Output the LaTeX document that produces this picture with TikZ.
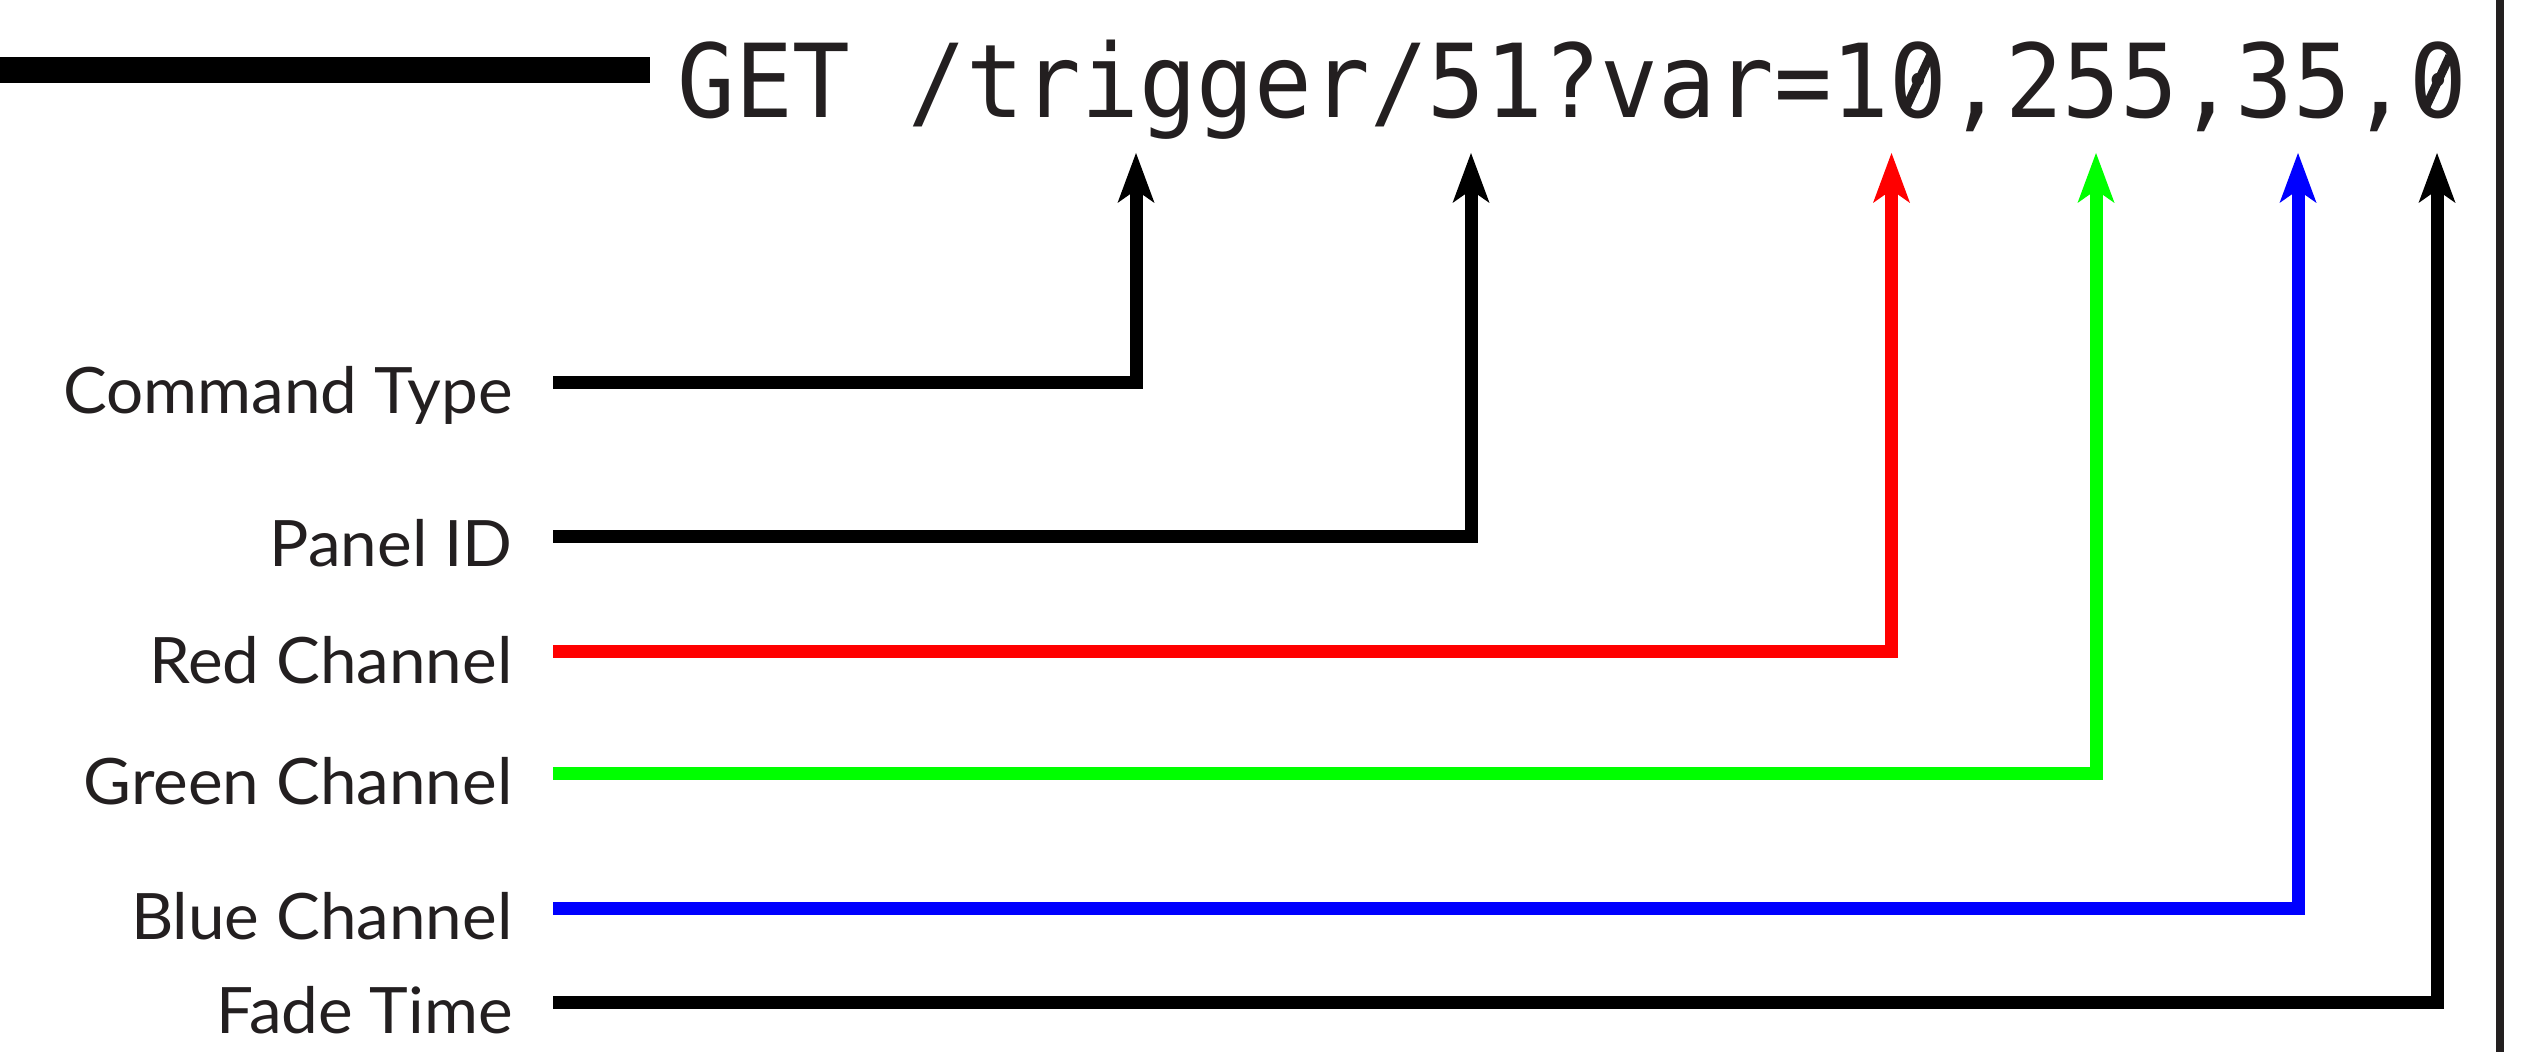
\documentclass[tikz,border=0pt]{standalone}
\usepackage{fontspec}
\usetikzlibrary{arrows.meta}
\newfontfamily\labelfont[FakeStretch=1.025]{Lato}
\newfontfamily\codefont[FakeStretch=0.94]{DejaVu Sans Mono}
\definecolor{ink}{HTML}{231F20}
\definecolor{chred}{HTML}{FF0000}
\definecolor{chgreen}{HTML}{00FF00}
\definecolor{chblue}{HTML}{0000FF}
% slashed zero: a thin rotated bar laid over the digit
\newcommand\slzero{\ooalign{0\cr\hidewidth\raisebox{0.10em}{\rotatebox{65}{\rule{0.54em}{0.085em}}}\hidewidth\cr}}
\begin{document}
\begin{tikzpicture}[x=0.5pt,y=-0.5pt,
  lbl/.style={anchor=base east, inner sep=0pt, text=ink,
    font=\labelfont\fontsize{32}{38}\selectfont},
  url/.style={anchor=base west, inner sep=0pt, text=ink,
    font=\codefont\fontsize{51}{58}\selectfont},
  conn/.style={line width=6.5pt, line join=miter,
    -{Stealth[length=25pt,width=18.5pt,inset=6.5pt,line width=0pt]}},
]
\useasboundingbox (0,0) rectangle (2530,1052);

% request line and its lead-in bar
\fill (0,57) rectangle (650,83);
\node[url] (url) at (677,118) {GET /trigger/51?var=1\slzero,255,35,\slzero};

% right-hand rule
\draw[ink, line width=4pt] (2500,0) -- (2500,1052);

% field labels
\node[lbl] (cmd)   at (513,414) {Command Type};
\node[lbl] (panel) at (513,567) {Panel ID};
\node[lbl] (red)   at (513,683) {Red Channel};
\node[lbl] (green) at (513,804) {Green Channel};
\node[lbl] (blue)  at (513,939) {Blue Channel};
\node[lbl] (fade)  at (513,1033) {Fade Time};

% connector start points, beside the labels
\coordinate (cmdS)   at (553,383);
\coordinate (panelS) at (553,536.5);
\coordinate (redS)   at (553,651.5);
\coordinate (greenS) at (553,773);
\coordinate (blueS)  at (553,908);
\coordinate (fadeS)  at (553,1002);

% arrow tips, just under the request line
\coordinate (cmdT)   at (1136,153);
\coordinate (panelT) at (1471,153);
\coordinate (redT)   at (1891.5,153);
\coordinate (greenT) at (2096,153);
\coordinate (blueT)  at (2298,153);
\coordinate (fadeT)  at (2437,153);

\draw[conn]          (cmdS)   -| (cmdT);
\draw[conn]          (panelS) -| (panelT);
\draw[conn, chred]   (redS)   -| (redT);
\draw[conn, chgreen] (greenS) -| (greenT);
\draw[conn, chblue]  (blueS)  -| (blueT);
\draw[conn]          (fadeS)  -| (fadeT);
\end{tikzpicture}
\end{document}
